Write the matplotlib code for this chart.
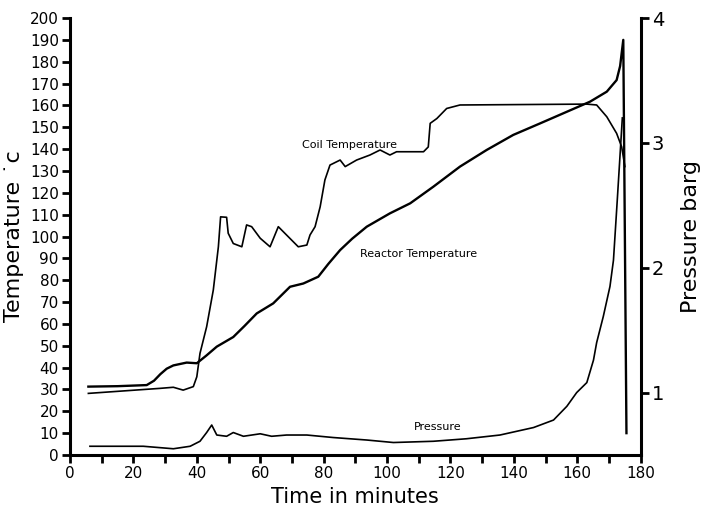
import matplotlib.pyplot as plt
from matplotlib.ticker import MultipleLocator

plt.rcParams['font.family'] = ['Liberation Sans Narrow', 'DejaVu Sans']

# ---- data ----
# reactor temperature, deg C
reactor_t = [5.8, 15, 24.2, 26.5, 28.5, 30.5, 32.6, 36.8, 40, 43, 46.3, 51.5, 55, 58.9, 64.1,
             69.4, 73.6, 78.3, 81.5, 85.2, 89, 93.6, 100.9, 107.3, 114.6, 123, 131.4, 139.8,
             148.3, 156.7, 164, 169.3, 172.4, 173.5, 174.5, 175.5]
reactor_T = [31.3, 31.5, 32, 34, 37, 39.5, 41, 42.3, 42, 45.5, 49.6, 54, 59, 64.8, 69.4,
             77, 78.5, 81.6, 87.5, 93.8, 99, 104.5, 110.6, 115.2, 122.8, 132, 139.6, 146.5,
             151.8, 157.1, 161.7, 166.3, 171.6, 178, 190, 10]

# coil temperature, deg C
coil_t = [5.8, 28.4, 32.6, 35.7, 38.9, 40, 41, 43.1, 45.2, 46.8, 47.5, 49.4, 49.9, 51.5,
          54.2, 55.7, 57.3, 60, 63.1, 65.7, 68.3, 72, 74.7, 75.7, 77.3, 78.9, 80.4, 82,
          85.2, 86.8, 90.4, 94.6, 97.8, 100.9, 103, 111.5, 113, 113.6, 115.7, 118.8,
          123, 163, 166.1, 169.3, 172.4, 174, 175]
coil_T = [28.2, 30.5, 31, 29.7, 31.3, 35.8, 46.5, 58.7, 75.5, 95.3, 109, 108.8, 101.5, 96.8,
          95.3, 105.3, 104.5, 99.2, 95.3, 104.5, 100.7, 95.3, 96.1, 100.7, 104.5, 113.6, 125.9, 132.7,
          135, 132, 135, 137.3, 139.6, 137.3, 138.8, 138.8, 141, 151.8, 154, 158.6,
          160.2, 160.6, 160.2, 154.8, 147.2, 141, 132]

# pressure, barg
press_t = [6.3, 23.1, 32.6, 37.9, 41, 43.1, 44.7, 46.3, 49.4, 51.5, 54.7, 60, 63.6, 68.3,
           74.7, 83, 93.6, 102, 114.6, 125, 135.6, 146.2, 152.5, 156.7, 159.8, 163, 165.1,
           166.1, 168.2, 170.3, 171.4, 172.6, 174.2]
press_p = [0.57, 0.57, 0.55, 0.57, 0.61, 0.68, 0.74, 0.66, 0.65, 0.68, 0.65, 0.67, 0.65, 0.66,
           0.66, 0.64, 0.62, 0.60, 0.61, 0.63, 0.66, 0.72, 0.78, 0.89, 1.0, 1.08, 1.26,
           1.40, 1.61, 1.85, 2.06, 2.54, 3.2]

fig = plt.figure(figsize=(7.09, 5.15), dpi=100)
ax = fig.add_axes([0.0987, 0.1165, 0.805, 0.8485])
ax2 = ax.twinx()

ax.plot(reactor_t, reactor_T, color='black', linewidth=1.7)
ax.plot(coil_t, coil_T, color='black', linewidth=1.2)
ax2.plot(press_t, press_p, color='black', linewidth=1.2)

ax.set_xlim(0, 180)
ax.set_ylim(0, 200)
ax2.set_ylim(0.5, 4.0)

ax.xaxis.set_major_locator(MultipleLocator(20))
ax.xaxis.set_minor_locator(MultipleLocator(10))
ax.yaxis.set_major_locator(MultipleLocator(10))
ax2.set_yticks([1, 2, 3, 4])

for a in (ax, ax2):
    a.spines['top'].set_visible(False)
    for s in ('left', 'right', 'bottom'):
        a.spines[s].set_linewidth(2.2)
ax.spines['right'].set_visible(False)
ax2.spines['left'].set_visible(False)
ax2.spines['bottom'].set_visible(False)

ax.tick_params(axis='both', which='both', direction='out', length=6, width=2,
               labelsize=11, pad=2)
ax2.tick_params(axis='y', direction='out', length=6, width=2, labelsize=14, pad=2)

ax.set_xlabel('Time in minutes', fontsize=15, labelpad=4)
ax.set_ylabel('Temperature \u02d9c', fontsize=16, labelpad=4)
ax2.set_ylabel('Pressure barg', fontsize=16, rotation=90, labelpad=12)

ax.text(88, 142, 'Coil Temperature', fontsize=8, ha='center', va='center')
ax.text(110, 92, 'Reactor Temperature', fontsize=8, ha='center', va='center')
ax.text(116, 13, 'Pressure', fontsize=8, ha='center', va='center')

fig.savefig('out.png', dpi=100, facecolor='white')
